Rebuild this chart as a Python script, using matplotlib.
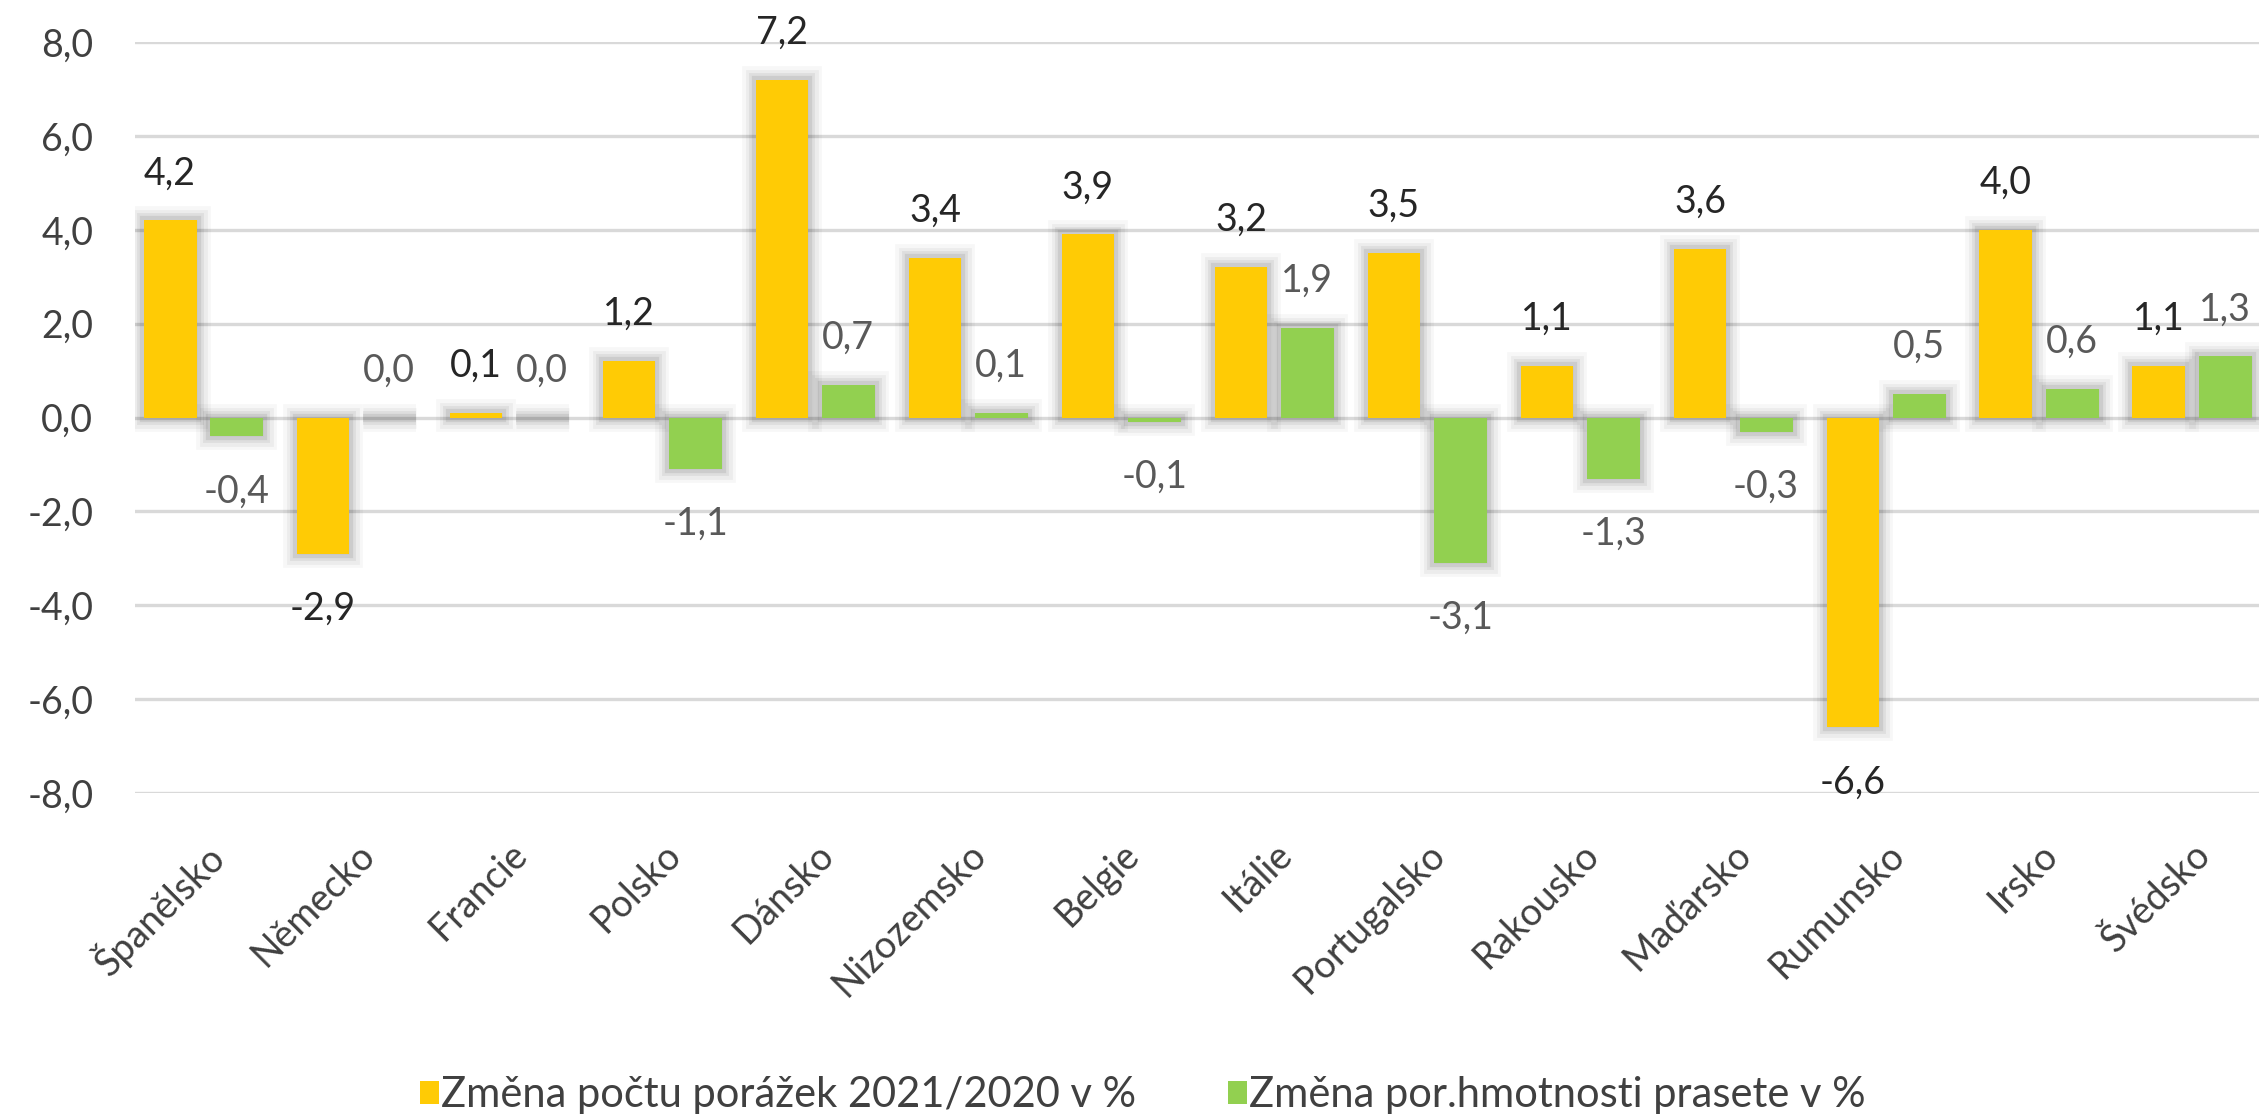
import numpy as np
import matplotlib.pyplot as plt
import matplotlib.patheffects as pe

countries = ['Španělsko', 'Německo', 'Francie', 'Polsko', 'Dánsko', 'Nizozemsko', 'Belgie',
             'Itálie', 'Portugalsko', 'Rakousko', 'Maďarsko', 'Rumunsko', 'Irsko', 'Švédsko']
slaughter_change = [4.2, -2.9, 0.1, 1.2, 7.2, 3.4, 3.9, 3.2, 3.5, 1.1, 3.6, -6.6, 4.0, 1.1]
weight_change = [-0.4, 0.0, 0.0, -1.1, 0.7, 0.1, -0.1, 1.9, -3.1, -1.3, -0.3, 0.5, 0.6, 1.3]
series_names = ['Změna počtu porážek 2021/2020 v %', 'Změna por.hmotnosti prasete v %']
yticks = [-8, -6, -4, -2, 0, 2, 4, 6, 8]

plt.rcParams['font.family'] = ['Lato', 'DejaVu Sans']

fig = plt.figure(figsize=(22.59, 11.2), dpi=100)
ax = fig.add_axes([135 / 2259, 1 - 793 / 1120, 1 - 135 / 2259, (793 - 42) / 1120])

x = np.arange(len(countries))
w = 0.346
off = 0.216
colors = ['#FFCB05', '#92D050']
label_colors = ['#262626', '#595959']

# soft grey glow round the bars
glow = [pe.Stroke(linewidth=20, foreground='black', alpha=0.03),
        pe.Stroke(linewidth=15, foreground='black', alpha=0.045),
        pe.Stroke(linewidth=10, foreground='black', alpha=0.06),
        pe.Stroke(linewidth=6, foreground='black', alpha=0.08)]

handles = []
for i, vals in enumerate([slaughter_change, weight_change]):
    xs = x - off if i == 0 else x + off
    g = ax.bar(xs, vals, width=w, color='black', zorder=2)
    for p in g:
        p.set_path_effects(glow)
    bars = ax.bar(xs, vals, width=w, color=colors[i], zorder=3, label=series_names[i])
    handles.append(bars)
    for xi, v in zip(xs, vals):
        txt = f'{v:.1f}'.replace('.', ',')
        dy = 26 if v >= 0 else -47.5
        ax.annotate(txt, (xi, v), xytext=(0, dy), textcoords='offset points',
                    ha='center', va='baseline', fontsize=27, color=label_colors[i], zorder=4)

ax.set_ylim(-8, 8)
ax.set_xlim(-0.445, 13 + (2259 - 2192) / 153)
ax.set_yticks(yticks)
ax.set_yticklabels([f'{t:.1f}'.replace('.', ',') for t in yticks], fontsize=27, color='#404040')
ax.set_xticks(x)
ax.set_xticklabels(countries, rotation=45, ha='right', va='top', rotation_mode='anchor',
                   fontsize=27, color='#404040')
ax.tick_params(axis='both', length=0)
ax.tick_params(axis='y', pad=30)
ax.tick_params(axis='x', pad=31)
ax.yaxis.grid(True, color='#D9D9D9', linewidth=2.4, zorder=0)
ax.set_axisbelow(True)
for s in ax.spines.values():
    s.set_visible(False)

fig.legend(handles=handles, loc='center', bbox_to_anchor=(0.506, 0.022), ncol=2, frameon=False,
           fontsize=30, handlelength=0.45, handleheight=0.5, handletextpad=0.06, columnspacing=2.2,
           labelcolor='#404040')

plt.savefig('out.png', dpi=100, facecolor='w')
plt.close()
